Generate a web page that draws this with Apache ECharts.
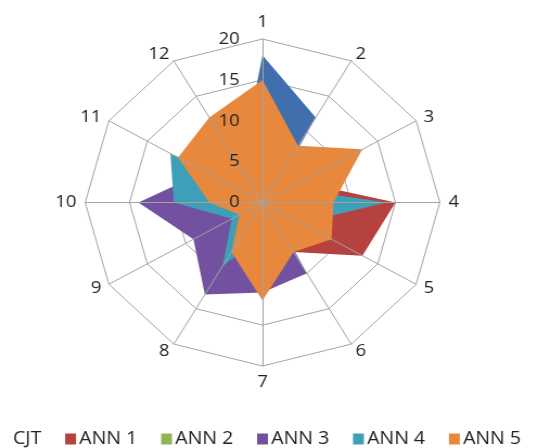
<!DOCTYPE html>
<html>
<head>
<meta charset="utf-8">
<script src="https://cdn.jsdelivr.net/npm/echarts@6/dist/echarts.min.js"></script>
<style>
  html, body { margin: 0; padding: 0; background: #fff; overflow: hidden; }
  #wrap { width: 538px; height: 448px; overflow: hidden; position: relative; }
  /* the plot is drawn slightly narrower, then widened so the web is a little oval */
  #chart { width: 496px; height: 448px; transform: scaleX(1.0847); transform-origin: 0 0; }
</style>
</head>
<body>
<div id="wrap"><div id="chart"></div></div>
<script>
// spokes 1..12, clockwise from the top
const axisNames = ['1', '2', '3', '4', '5', '6', '7', '8', '9', '10', '11', '12'];
const seriesNames = ['CJT', 'ANN 1', 'ANN 2', 'ANN 3', 'ANN 4', 'ANN 5'];

const cjt  = [18, 12, 1, 6, 5, 4, 6, 5, 3, 5, 6, 5];
const ann1 = [10, 6, 5, 15, 13, 7, 8, 5, 3, 4, 6, 9];
const ann2 = [6, 5, 4, 5, 4, 4, 5, 4, 2, 4, 5, 6];
const ann3 = [5, 4, 3, 4, 1, 10, 11, 13, 9, 14, 7.5, 6];
const ann4 = [3, 2, 3.5, 14, 5, 4, 4, 9, 4, 10, 12, 2];
const ann5 = [15, 8, 13, 8, 9, 7, 12, 7, 3, 6, 11, 12];

const axisMin = 0;
const axisMax = 20;
const splitCount = 4;

const colors = ['#416FAE', '#B5423F', '#93B454', '#7252A0', '#3E9FB8', '#E8883C'];
const fontFamily = '"Open Sans", "Noto Sans", sans-serif';
const textColor = '#222';
const gridColor = '#a3a3a3';

// ECharts lays indicators out counter-clockwise; reverse all but the first
const clockwise = arr => [arr[0]].concat(arr.slice(1).reverse());

const allSeries = [cjt, ann1, ann2, ann3, ann4, ann5];

const center = [242, 202.5];
const radius = 163.5;

function indicators(withLabels) {
  return clockwise(axisNames).map((n, i) => {
    const ind = { name: n, min: axisMin, max: axisMax };
    if (withLabels) {
      ind.axisLabel = i === 0
        ? { show: true, margin: 21, color: textColor, fontSize: 17, fontFamily: fontFamily }
        : { show: false };
    }
    return ind;
  });
}

const chart = echarts.init(document.getElementById('chart'), null, { renderer: 'canvas' });

chart.setOption({
  animation: false,
  color: colors,
  legend: {
    left: -6,
    top: 425,
    itemWidth: 10,
    itemHeight: 11,
    itemGap: 22,
    icon: 'rect',
    textStyle: { color: textColor, fontSize: 18, fontFamily: fontFamily, padding: [0, 0, 0, -2] },
    data: seriesNames.map((n, i) => i === 0 ? { name: n, itemStyle: { opacity: 0 } } : { name: n })
  },
  radar: [
    {
      // rings and spoke names, under the filled areas
      center: center,
      radius: radius,
      startAngle: 90,
      shape: 'polygon',
      splitNumber: splitCount,
      indicator: indicators(false),
      nameGap: 8,
      axisName: { color: textColor, fontSize: 17, fontFamily: fontFamily },
      splitLine: { lineStyle: { color: gridColor, width: 1 } },
      splitArea: { show: false },
      axisLine: { show: false },
      axisTick: { show: false },
      axisLabel: { show: false },
      z: 0
    },
    {
      // spokes and value labels, over the filled areas
      center: center,
      radius: radius,
      startAngle: 90,
      shape: 'polygon',
      splitNumber: splitCount,
      indicator: indicators(true),
      axisName: { show: false },
      splitLine: { show: false },
      splitArea: { show: false },
      axisLine: { show: true, lineStyle: { color: gridColor, width: 1 } },
      axisTick: { show: false },
      axisLabel: { show: false },
      z: 5
    }
  ],
  series: allSeries.map((vals, i) => ({
    type: 'radar',
    radarIndex: 0,
    name: seriesNames[i],
    symbol: 'none',
    silent: true,
    lineStyle: { width: 0 },
    areaStyle: { color: colors[i], opacity: 1 },
    itemStyle: { color: colors[i] },
    data: [{ value: clockwise(vals), name: seriesNames[i] }]
  }))
});
</script>
</body>
</html>
